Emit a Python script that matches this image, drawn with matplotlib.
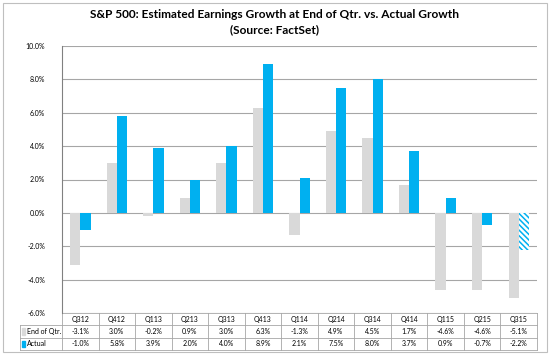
import numpy as np
import matplotlib
matplotlib.use("Agg")
import matplotlib.pyplot as plt
from matplotlib.transforms import blended_transform_factory
from matplotlib.patches import Rectangle

plt.rcParams['font.family'] = ['Lato', 'DejaVu Sans']
plt.rcParams['hatch.linewidth'] = 1.1

# Data
quarters = ['Q312', 'Q412', 'Q113', 'Q213', 'Q313', 'Q413', 'Q114',
            'Q214', 'Q314', 'Q414', 'Q115', 'Q215', 'Q315']
end_of_qtr = [-3.1, 3.0, -0.2, 0.9, 3.0, 6.3, -1.3, 4.9, 4.5, 1.7, -4.6, -4.6, -5.1]
actual = [-1.0, 5.8, 3.9, 2.0, 4.0, 8.9, 2.1, 7.5, 8.0, 3.7, 0.9, -0.7, -2.2]
series_names = ['End of Qtr.', 'Actual']

gray = '#d9d9d9'
blue = '#00b0f0'
line_c = '#a6a6a6'

fig = plt.figure(figsize=(5.5, 3.56), dpi=100)
ax = fig.add_axes([62/550, 1 - 313/356, (537 - 62)/550, (313 - 46)/356])

x = np.arange(len(quarters))
w = 0.28
ax.bar(x - w/2, end_of_qtr, w, color=gray, zorder=3)
bars = ax.bar(x + w/2, actual, w, color=blue, zorder=3)
# last quarter actual is an estimate -> hatched
bars[-1].set_facecolor('white')
bars[-1].set_edgecolor(blue)
bars[-1].set_hatch('\\\\\\\\\\\\')
bars[-1].set_linewidth(0)

ax.set_xlim(-0.5, len(quarters) - 0.5)
ax.set_ylim(-6, 10)
ax.set_yticks(np.arange(-6, 11, 2))
ax.set_yticklabels(['%.1f%%' % v for v in np.arange(-6, 11, 2)], fontsize=5)
ax.tick_params(axis='y', length=0, pad=12)
ax.set_xticks([])
ax.yaxis.grid(True, color=line_c, linewidth=0.8, zorder=0)
for s in ['top', 'right', 'bottom']:
    ax.spines[s].set_visible(False)
ax.spines['left'].set_color('#808080')
ax.spines['left'].set_linewidth(0.8)

# Data table under the plot
tr = blended_transform_factory(ax.transData, ax.transAxes)
row_h = 12.4 / (313 - 46)
for r in range(4):
    y = -r * row_h
    x0 = -0.5 if r == 0 else -0.5 - 1.15
    ax.plot([x0, len(quarters) - 0.5], [y, y], transform=tr, color=line_c,
            lw=0.6, clip_on=False)
for i in range(len(quarters) + 1):
    ax.plot([i - 0.5, i - 0.5], [0, -3 * row_h], transform=tr, color=line_c,
            lw=0.6, clip_on=False)
ax.plot([-1.65, -1.65], [-row_h, -3 * row_h], transform=tr, color=line_c,
        lw=0.6, clip_on=False)
for i, q in enumerate(quarters):
    ax.text(i, -0.5 * row_h, q, transform=tr, ha='center', va='center',
            fontsize=5, clip_on=False)
    ax.text(i, -1.5 * row_h, '%.1f%%' % end_of_qtr[i], transform=tr,
            ha='center', va='center', fontsize=5, clip_on=False)
    ax.text(i, -2.5 * row_h, '%.1f%%' % actual[i], transform=tr,
            ha='center', va='center', fontsize=5, clip_on=False)
for k, (name, c) in enumerate(zip(series_names, [gray, blue])):
    yc = -(k + 1.5) * row_h
    ax.add_patch(Rectangle((-1.6, yc - 0.012), 0.1, 0.024, transform=tr,
                           color=c, clip_on=False))
    ax.text(-1.45, yc, name, transform=tr, ha='left', va='center',
            fontsize=5, clip_on=False)

fig.text(0.5, 1 - 15/356, 'S&P 500: Estimated Earnings Growth at End of Qtr. vs. Actual Growth',
         ha='center', va='center', fontsize=8.6, fontweight='bold')
fig.text(0.5, 1 - 30/356, '(Source: FactSet)', ha='center', va='center',
         fontsize=8.6, fontweight='bold')

# outer frame
fig.patches.append(Rectangle((3/550, 4/356), 544/550, 349/356, transform=fig.transFigure,
                             fill=False, edgecolor='#bfbfbf', lw=0.8))

fig.savefig('out.png', dpi=100)
